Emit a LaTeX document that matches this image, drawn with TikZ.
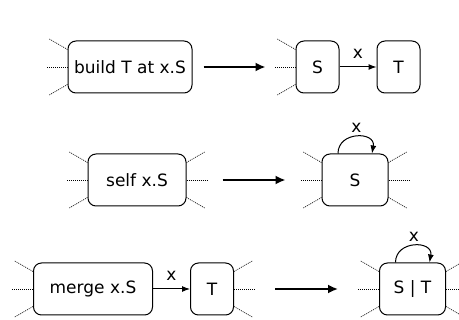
\documentclass[tikz,border=0pt]{standalone}
\usepackage{fontspec}
\setmainfont{DejaVu Sans}
\usetikzlibrary{arrows.meta,positioning}

\begin{document}
\begin{tikzpicture}[
  x=1pt, y=1pt,
  node distance=37pt,
  box/.style={draw, rounded corners=8pt, line width=1pt, minimum height=52pt, minimum width=43pt, inner sep=3pt, font=\fontsize{17}{20}\selectfont},
  lbl/.style={font=\fontsize{17}{20}\selectfont, inner sep=2pt},
  stub/.style={dash pattern=on 1pt off 1pt, line width=0.6pt},
  rule/.style={-{Latex[length=10pt,width=9pt]}, line width=1.8pt},
  link/.style={-{Latex[length=8pt,width=6pt]}, line width=1pt}
]
\useasboundingbox (0,0) rectangle (459,-320);

% build: new target reached over x
\node[box, minimum width=124pt] (build) at (130,-67) {build T at x.S};
\node[box, right=103pt of build] (sa) {S};
\node[box, right=of sa] (ta) {T};
\draw[link] (sa) -- node[lbl, above=6pt]{x} (ta);
\draw[rule, shorten <=11pt, shorten >=30pt] (build) -- (sa);

% self: x loops back
\node[box, minimum width=98pt] (self) at (137,-180) {self x.S};
\node[box, minimum width=66pt, right=135pt of self] (sb) {S};
\draw[link] ([xshift=-17pt]sb.north) to[out=90, in=80, looseness=1.7] node[lbl, above=2pt]{x} ([xshift=17pt]sb.north);
\draw[rule, shorten <=36pt, shorten >=36pt] (self) -- (sb);

% merge: S and T collapse into one
\node[box, minimum width=119pt] (merge) at (93,-289) {merge x.S};
\node[box, right=of merge] (tb) {T};
\draw[link] (merge) -- node[lbl, above=6pt]{x} (tb);
\node[box, minimum width=66pt, right=145pt of tb] (st) {S | T};
\draw[link] ([xshift=-17pt]st.north) to[out=90, in=80, looseness=1.7] node[lbl, above=2pt]{x} ([xshift=17pt]st.north);
\draw[rule, shorten <=41pt, shorten >=41pt] (tb) -- (st);

% dotted context edges
\foreach \n in {build,sa,self,sb,merge,st} {
  \draw[stub] ([yshift=-9pt]\n.north west) -- ++(150:21pt);
  \draw[stub] (\n.west) -- ++(-21pt,0);
  \draw[stub] ([yshift=9pt]\n.south west) -- ++(210:21pt);
}
\foreach \n in {self,sb,tb,st} {
  \draw[stub] ([yshift=-9pt]\n.north east) -- ++(30:21pt);
  \draw[stub] (\n.east) -- ++(21pt,0);
  \draw[stub] ([yshift=9pt]\n.south east) -- ++(-30:21pt);
}
\end{tikzpicture}
\end{document}
